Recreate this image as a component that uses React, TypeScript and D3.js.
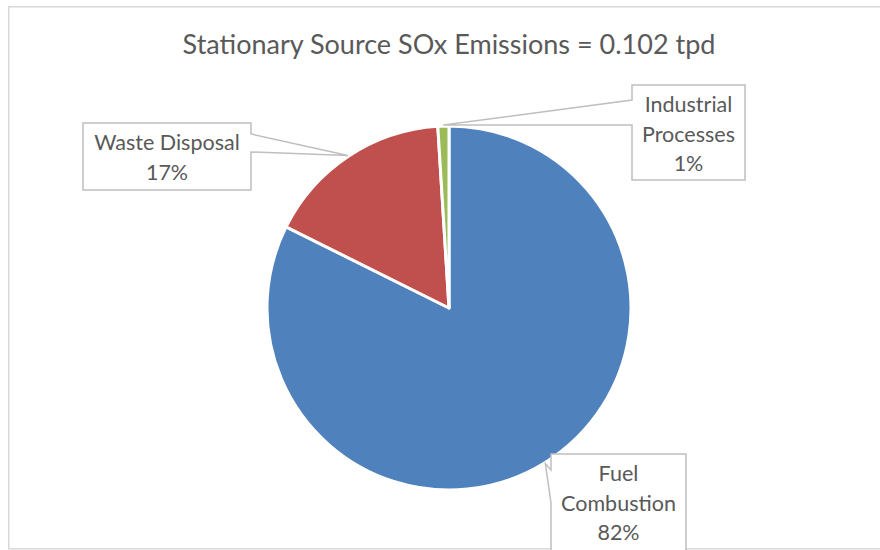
import React from "react";
import * as d3 from "d3";

const title = "Stationary Source SOx Emissions = 0.102 tpd";
const categories = ["Fuel Combustion", "Waste Disposal", "Industrial Processes"];
const values = [0.084, 0.017, 0.001];
const percentLabels = ["82%", "17%", "1%"];
const labelLines = [["Fuel", "Combustion"], ["Waste Disposal"], ["Industrial", "Processes"]];
const colors = ["#4F81BD", "#C0504D", "#9BBB59"];

// layout (page coordinates)
const W = 880, H = 550;
const cx = 449, cy = 308, R = 182;
const FONT = "Lato, 'Open Sans', sans-serif";
const TEXT = "#595959";
const LINE = "#BFBFBF";

// callout boxes: [x0, y0, x1, y1], side the pointer leaves from, pointer base range on that side
const boxes = [
  { x0: 551, y0: 454, x1: 686, y1: 562, side: "left", b0: 470, b1: 503, lineY: 481 },
  { x0: 83, y0: 123, x1: 251, y1: 190, side: "right", b0: 134, b1: 152, lineY: 150 },
  { x0: 632, y0: 85, x1: 745, y1: 180, side: "left", b0: 100, b1: 125, lineY: 112 },
];

export default function App() {
  const pie = d3.pie<number>().sort(null).value((d) => d).startAngle(0).endAngle(2 * Math.PI);
  const arcs = pie(values);
  const arc = d3.arc<d3.PieArcDatum<number>>().innerRadius(0).outerRadius(R);

  return (
    <svg
      width={W}
      height={H}
      style={{ position: "absolute", left: 0, top: 0, background: "#fff" }}
    >
      <rect x={8.75} y={6.75} width={W + 20} height={542} fill="#fff" stroke="#D9D9D9" strokeWidth={1.5} />
      <text x={cx} y={54} textAnchor="middle" fontFamily={FONT} fontSize={27} fill={TEXT}>
        {title}
      </text>
      <g transform={`translate(${cx},${cy})`}>
        {arcs.map((a, i) => (
          <path key={i} d={arc(a) || ""} fill={colors[i]} stroke="#fff" strokeWidth={3} strokeLinejoin="round" />
        ))}
      </g>
      {arcs.map((a, i) => {
        const mid = (a.startAngle + a.endAngle) / 2;
        const tx = cx + Math.sin(mid) * (R + 1);
        const ty = cy - Math.cos(mid) * (R + 1);
        const b = boxes[i];
        const pts =
          b.side === "left"
            ? [
                [b.x0, b.y0],
                [b.x1, b.y0],
                [b.x1, b.y1],
                [b.x0, b.y1],
                [b.x0, b.b1],
                [tx, ty],
                [b.x0, b.b0],
              ]
            : [
                [b.x0, b.y0],
                [b.x1, b.y0],
                [b.x1, b.b0],
                [tx, ty],
                [b.x1, b.b1],
                [b.x1, b.y1],
                [b.x0, b.y1],
              ];
        const lines = [...labelLines[i], percentLabels[i]];
        const mx = (b.x0 + b.x1) / 2;
        return (
          <g key={"l" + i}>
            <polygon
              points={pts.map((p) => p.join(",")).join(" ")}
              fill="#fff"
              stroke={LINE}
              strokeWidth={1.5}
              strokeLinejoin="miter"
            />
            <text textAnchor="middle" fontFamily={FONT} fontSize={21.5} fill={TEXT}>
              {lines.map((t, j) => (
                <tspan key={j} x={mx} y={b.lineY + j * 29.5}>
                  {t}
                </tspan>
              ))}
            </text>
          </g>
        );
      })}
    </svg>
  );
}
